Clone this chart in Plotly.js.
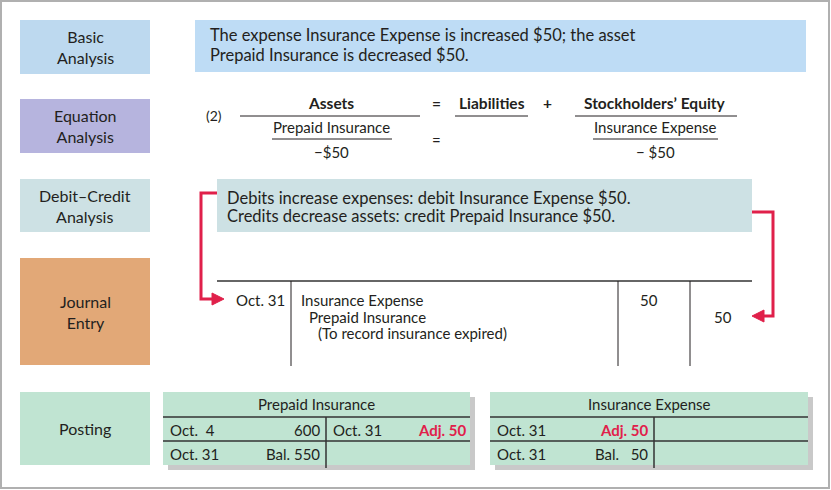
<!DOCTYPE html>
<html><head><meta charset="utf-8">
<script src="https://cdn.plot.ly/plotly-3.0.1.min.js"></script>
<style>body{margin:0}#c{width:831px;height:490px}</style></head>
<body><div id="c"></div>
<script>
const stepLabels = ["Basic<br>Analysis","Equation<br>Analysis","Debit–Credit<br>Analysis","Journal<br>Entry","Posting"];
const basicText = ["The expense Insurance Expense is increased $50; the asset","Prepaid Insurance is decreased $50."];
const eqHeaders = ["Assets","=","Liabilities","+","Stockholders’ Equity"];
const eqAccounts = ["Prepaid Insurance","Insurance Expense"];
const eqAmounts = ["−$50","− $50"];
const dcText = ["Debits increase expenses: debit Insurance Expense $50.","Credits decrease assets: credit Prepaid Insurance $50."];
const journalDate = "Oct. 31";
const journalLines = ["Insurance Expense","Prepaid Insurance","(To record insurance expired)"];
const journalDebit = 50, journalCredit = 50;
const tAccounts = ["Prepaid Insurance","Insurance Expense"];
const prepaidDebits = [["Oct.  4","600"],["Oct. 31","Bal. 550"]];
const prepaidCredits = [["Oct. 31","Adj. 50"]];
const expenseDebits = [["Oct. 31","Adj. 50"],["Oct. 31","Bal.   50"]];

const F = "Lato, 'Open Sans', sans-serif", C = "#231f20", RED = "#e0204a";
const shapes = [], ann = [];
function rect(x0,y0,x1,y1,fill,line){shapes.push({type:'rect',x0,y0,x1,y1,fillcolor:fill,line:line||{width:0},layer:'below'});}
function ln(x0,y0,x1,y1,color,w){shapes.push({type:'line',x0,y0,x1,y1,line:{color:color||C,width:w||1}});}
function txt(x,y,t,o){o=o||{};ann.push({x,y,text:t,showarrow:false,xanchor:o.xa||'left',yanchor:'middle',font:{family:F,size:o.s||16,color:o.c||C}});}

rect(1,1,829,488,'white',{color:'#b0b0b0',width:2});
const lb=[[20,74,'#bdd9ef'],[99,153,'#b6b4de'],[179,232,'#cde1e4'],[258,365,'#e2a877'],[392,465,'#c0e4d2']];
lb.forEach((b,i)=>{rect(20,b[0],150,b[1],b[2]);txt(85,(b[0]+b[1])/2,stepLabels[i],{xa:'center',s:16});});

rect(195,20,806,72,'#bedcf5');
basicText.forEach((t,i)=>txt(208,35+i*20,t,{s:16.5}));

txt(204,115,"(2)",{s:14});
const hx=[331,436,492,547,655];
eqHeaders.forEach((t,i)=>txt(hx[i],103,"<b>"+t+"</b>",{xa:'center',s:15.5}));
ln(240,116,420,116);ln(455,116,528,116);ln(575,116,737,116);
txt(331,127,eqAccounts[0],{xa:'center',s:15});txt(655,127,eqAccounts[1],{xa:'center',s:15});
ln(272,139,392,139);ln(593,139,718,139);
txt(331,152,eqAmounts[0],{xa:'center',s:15});txt(655,152,eqAmounts[1],{xa:'center',s:15});
txt(436,140,"=",{xa:'center',s:15});

rect(217,179,752,232,'#cde1e4');
dcText.forEach((t,i)=>txt(225,198+i*18,t,{s:16.5}));
shapes.push({type:'path',path:'M217,193 L201,193 L201,299 L212,299',line:{color:RED,width:3}});
shapes.push({type:'path',path:'M212,293 L224,299 L212,305 Z',fillcolor:RED,line:{color:RED,width:1}});
shapes.push({type:'path',path:'M752,212 L773,212 L773,316 L764,316',line:{color:RED,width:3}});
shapes.push({type:'path',path:'M764,310 L752,316 L764,322 Z',fillcolor:RED,line:{color:RED,width:1}});

ln(217,281,752,281,'#333',1.5);
ln(291,281,291,366);ln(618,281,618,366);ln(690,281,690,366);
txt(287,300,journalDate,{xa:'right',s:15});
txt(299,300,journalLines[0],{s:15});txt(307,317,journalLines[1],{s:15});txt(316,333,journalLines[2],{s:15});
txt(649,300,String(journalDebit),{xa:'center',s:15});txt(723,317,String(journalCredit),{xa:'center',s:15});

function tacct(x0,x1,xm,title,deb,cred){
  rect(x0+5,397,x1+5,470,'#c9c9c9');
  rect(x0,392,x1,465,'#c0e4d2');
  txt((x0+x1)/2,404,title,{xa:'center',s:15});
  ln(x0,417,x1,417,'#333',1.5);ln(x0,441,x1,441,'#333',1.5);
  ln(xm,417,xm,468,'#333',1.5);
  deb.forEach((r,i)=>{const y=430+i*24;txt(x0+5,y,r[0],{s:15});
    const red=r[1].startsWith('Adj');txt(xm-4,y,red?'<b>'+r[1]+'</b>':r[1],{xa:'right',s:15,c:red?RED:C});});
  cred.forEach((r,i)=>{const y=430+i*24;txt(xm+5,y,r[0],{s:15});
    const red=r[1].startsWith('Adj');txt(x1-2,y,red?'<b>'+r[1]+'</b>':r[1],{xa:'right',s:15,c:red?RED:C});});
}
tacct(163,470,326,tAccounts[0],prepaidDebits,prepaidCredits);
tacct(490,808,654,tAccounts[1],expenseDebits,[]);

Plotly.newPlot('c',[],{width:831,height:490,margin:{l:0,r:0,t:0,b:0},
  paper_bgcolor:'white',plot_bgcolor:'white',showlegend:false,
  xaxis:{range:[0,831],visible:false,fixedrange:true},
  yaxis:{range:[490,0],visible:false,fixedrange:true},
  shapes,annotations:ann},{staticPlot:true});
</script></body></html>
